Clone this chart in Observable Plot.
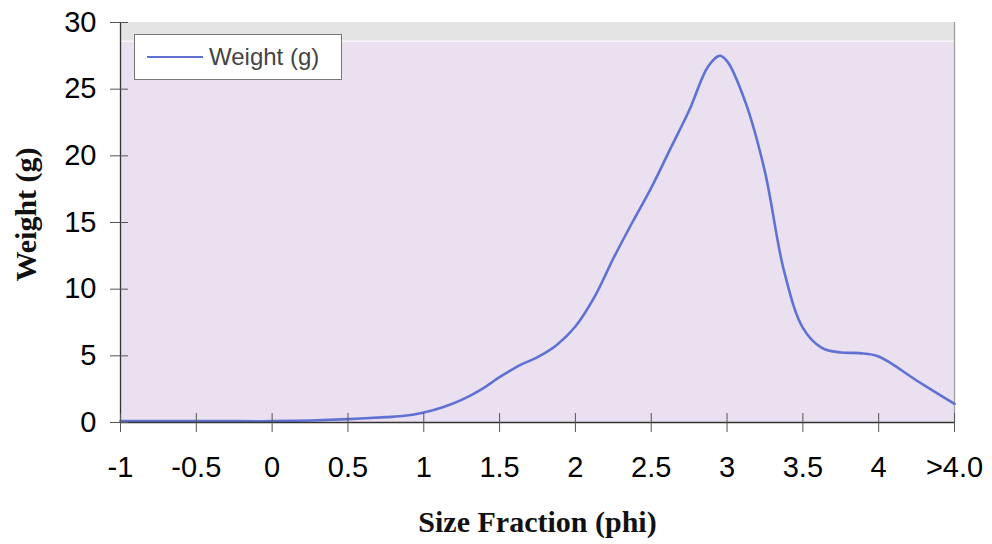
<!DOCTYPE html>
<html>
<head>
<meta charset="utf-8">
<script src="https://cdn.jsdelivr.net/npm/d3@7"></script>
<script src="https://cdn.jsdelivr.net/npm/@observablehq/plot@0.6"></script>
<style>
  html, body { margin: 0; padding: 0; background: #fff; }
  #wrap { position: relative; width: 992px; height: 544px; }
  #legend {
    position: absolute; left: 134px; top: 34px; width: 206px; height: 44px;
    background: #fff; border: 1px solid #777; box-sizing: content-box;
    font-family: "Liberation Sans", Arial, sans-serif; font-size: 24px; color: #444;
    display: flex; align-items: center;
  }
  #legend .swatch { width: 56px; height: 0; border-top: 2px solid #5f72d4; margin: 0 6px 0 12px; }
</style>
</head>
<body>
<div id="wrap"></div>
<script>
// Size fraction (phi) and weight (g)
const phi = [-1, -0.75, -0.5, -0.25, 0, 0.25, 0.5, 0.75, 0.875, 1, 1.125, 1.25, 1.375, 1.5, 1.625, 1.75, 1.875, 2, 2.125, 2.25, 2.375, 2.5, 2.625, 2.75, 2.875, 2.95, 3, 3.125, 3.25, 3.375, 3.5, 3.625, 3.75, 3.875, 4, 4.25, 4.5];
const weight = [0.1, 0.1, 0.1, 0.1, 0.1, 0.15, 0.25, 0.4, 0.5, 0.75, 1.15, 1.7, 2.45, 3.4, 4.25, 4.9, 5.8, 7.2, 9.4, 12.3, 15.0, 17.6, 20.5, 23.4, 26.7, 27.5, 27.1, 23.9, 18.8, 11.4, 7.1, 5.6, 5.25, 5.2, 4.95, 3.15, 1.4];

const xTickValues = [-1, -0.5, 0, 0.5, 1, 1.5, 2, 2.5, 3, 3.5, 4, 4.5];
const xTickLabels = ["-1", "-0.5", "0", "0.5", "1", "1.5", "2", "2.5", "3", "3.5", "4", ">4.0"];
const yTickValues = [0, 5, 10, 15, 20, 25, 30];
const seriesName = "Weight (g)";
const xTitle = "Size Fraction (phi)";
const yTitle = "Weight (g)";
const topBand = [{y1: 28.6, y2: 30}];

const data = phi.map((p, i) => ({phi: p, weight: weight[i]}));

const sans = "'Liberation Sans', Arial, sans-serif";
const serif = "'Liberation Serif', 'Times New Roman', serif";

const chart = Plot.plot({
  width: 992,
  height: 544,
  marginLeft: 120,
  marginRight: 38,
  marginTop: 22,
  marginBottom: 122,
  style: {fontFamily: sans, fontSize: "29px", color: "#000", background: "transparent", overflow: "visible"},
  x: {domain: [-1, 4.5]},
  y: {domain: [0, 30]},
  marks: [
    Plot.frame({fill: "#eae0f0", stroke: null}),
    Plot.rect(topBand, {y1: "y1", y2: "y2", fill: "#e4e4e4"}),
    Plot.ruleY([topBand[0].y1], {stroke: "#f6f6f6", strokeWidth: 1.5}),
    Plot.ruleX([xTickValues[xTickValues.length - 1]], {stroke: "#9a9a9a", strokeWidth: 1.2}),
    Plot.line(data, {x: "phi", y: "weight", stroke: "#5f72d4", strokeWidth: 2.6, curve: "catmull-rom"}),
    Plot.ruleY([yTickValues[0]], {stroke: "#333", strokeWidth: 1.3}),
    Plot.ruleX([xTickValues[0]], {stroke: "#333", strokeWidth: 1.3}),
    Plot.axisX({ticks: xTickValues, tickFormat: (d) => xTickLabels[xTickValues.indexOf(d)], tickSize: 10, tickPadding: 24, stroke: "#555", label: null, fill: "#000", fontSize: 29}),
    Plot.axisX({ticks: xTickValues, tickSize: -9, text: null, stroke: "#555", label: null}),
    Plot.axisY({ticks: yTickValues, tickSize: 10, tickPadding: 14, stroke: "#555", label: null, fill: "#000", fontSize: 29}),
    Plot.axisY({ticks: yTickValues, tickSize: -8, text: null, stroke: "#555", label: null}),
    Plot.text([xTitle], {frameAnchor: "bottom", dy: 100, fontFamily: serif, fontWeight: "bold", fontSize: 30, fill: "#111", lineAnchor: "middle"}),
    Plot.text([yTitle], {frameAnchor: "left", dx: -94, dy: -8, rotate: -90, textAnchor: "middle", fontFamily: serif, fontWeight: "bold", fontSize: 30, fill: "#111", lineAnchor: "middle"})
  ]
});

const wrap = document.getElementById("wrap");
wrap.appendChild(chart);
const legend = document.createElement("div");
legend.id = "legend";
legend.innerHTML = '<span class="swatch"></span><span></span>';
legend.lastChild.textContent = seriesName;
wrap.appendChild(legend);
</script>
</body>
</html>
